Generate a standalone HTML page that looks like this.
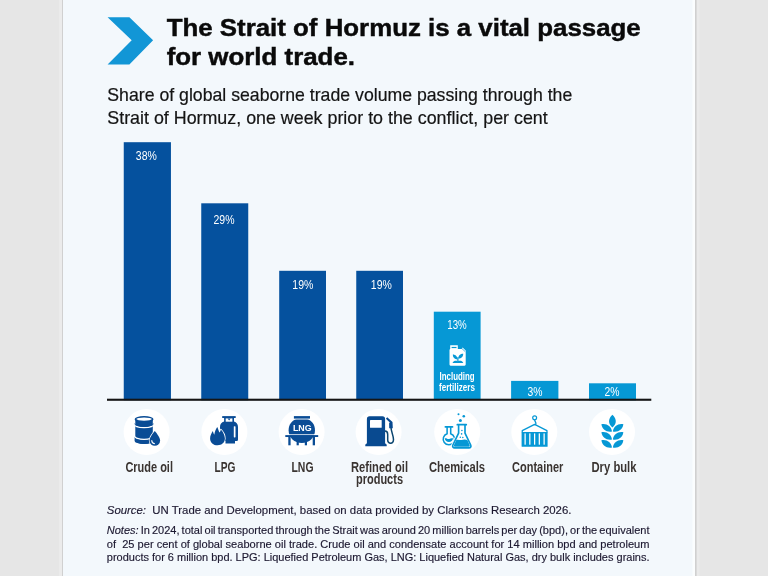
<!DOCTYPE html>
<html lang="en">
<head>
<meta charset="utf-8">
<title>The Strait of Hormuz is a vital passage for world trade.</title>
<style>
html,body{margin:0;padding:0;background:#e6e6e6;}
body{width:768px;height:576px;overflow:hidden;position:relative;font-family:"Liberation Sans",sans-serif;}
svg{position:absolute;left:0;top:0;display:block;}
text{font-family:"Liberation Sans",sans-serif;}
.t{font-weight:bold;font-size:24.8px;fill:#0a0a0a;stroke:#0a0a0a;stroke-width:0.45px;}
.s{font-size:17.8px;fill:#141414;stroke:#141414;stroke-width:0.2px;}
.v{font-size:12.3px;fill:#ffffff;text-anchor:middle;}
.l{font-size:14.5px;font-weight:bold;fill:#3a3431;text-anchor:middle;}
.f{font-size:10px;font-weight:bold;fill:#ffffff;text-anchor:middle;}
.n{font-size:11px;fill:#1c1830;stroke:#1c1830;stroke-width:0.15px;}
.db{fill:#05519e;}
.di{fill:#0a4c95;}
.lb{fill:#0698d5;}
</style>
</head>
<body>
<svg width="768" height="576" viewBox="0 0 768 576">
<!-- page + panel -->
<rect x="0" y="0" width="768" height="576" fill="#e6e6e6"/>
<rect x="59" y="0" width="3" height="576" fill="#ebebeb"/>
<rect x="696" y="0" width="3.5" height="576" fill="#eaeaea"/>
<rect x="62" y="0" width="634.6" height="576" fill="#d0d0d0"/>
<rect x="63" y="0" width="632" height="576" fill="#f3f8fc"/>
<rect x="692.5" y="0" width="2.5" height="576" fill="#fbfdfe"/>

<!-- chevron -->
<polygon fill="#1296d6" points="107.6,17.2 129.4,17.2 153.1,40.2 129.4,64.4 107.6,64.4 131.7,40.2"/>

<!-- title -->
<text class="t" x="166.7" y="35.8" textLength="474" lengthAdjust="spacingAndGlyphs">The Strait of Hormuz is a vital passage</text>
<text class="t" x="166.7" y="65" textLength="188.3" lengthAdjust="spacingAndGlyphs">for world trade.</text>

<!-- subtitle -->
<text class="s" x="107.3" y="100.7" textLength="465" lengthAdjust="spacingAndGlyphs">Share of global seaborne trade volume passing through the</text>
<text class="s" x="107.3" y="123.7" textLength="440.4" lengthAdjust="spacingAndGlyphs">Strait of Hormuz, one week prior to the conflict, per cent</text>

<!-- bars -->
<rect class="db" x="123.75" y="142.2" width="47.2" height="258"/>
<rect class="db" x="201.25" y="203.3" width="47" height="197"/>
<rect class="db" x="279.2" y="270.8" width="46.8" height="129"/>
<rect class="db" x="356.25" y="270.8" width="46.75" height="129"/>
<rect class="lb" x="433.8" y="311.7" width="46.8" height="88"/>
<rect class="lb" x="511.1" y="380.9" width="47.3" height="19"/>
<rect class="lb" x="589" y="383.3" width="47" height="17"/>
<!-- axis -->
<rect x="107" y="398.7" width="544.3" height="2.1" fill="#151515"/>

<!-- values -->
<text class="v" x="146.3" y="160" textLength="21" lengthAdjust="spacingAndGlyphs">38%</text>
<text class="v" x="224" y="224" textLength="21" lengthAdjust="spacingAndGlyphs">29%</text>
<text class="v" x="302.8" y="289.4" textLength="21" lengthAdjust="spacingAndGlyphs">19%</text>
<text class="v" x="381.3" y="289.4" textLength="21" lengthAdjust="spacingAndGlyphs">19%</text>
<text class="v" x="457" y="329.4" textLength="19.5" lengthAdjust="spacingAndGlyphs">13%</text>
<text class="v" x="535" y="395.7" textLength="15" lengthAdjust="spacingAndGlyphs">3%</text>
<text class="v" x="612" y="395.7" textLength="15" lengthAdjust="spacingAndGlyphs">2%</text>

<!-- fertilizers -->
<text class="f" x="457.1" y="379.6" textLength="35" lengthAdjust="spacingAndGlyphs">Including</text>
<text class="f" x="457" y="390.5" textLength="36" lengthAdjust="spacingAndGlyphs">fertilizers</text>

<!-- icon circles -->
<g fill="#ffffff">
<circle cx="146.6" cy="432" r="23"/>
<circle cx="224.4" cy="432" r="23"/>
<circle cx="301.6" cy="432" r="23"/>
<circle cx="378.6" cy="432" r="23"/>
<circle cx="457.2" cy="432" r="23"/>
<circle cx="534.3" cy="432" r="23"/>
<circle cx="612" cy="432" r="23"/>
</g>


<!-- ICON: crude oil -->
<g id="ic-oil">
<path class="di" d="M135.3,419.2 L135.3,441 A8.75,2.9 0 0 0 152.8,441 L152.8,419.2 Z"/>
<ellipse class="di" cx="144.05" cy="419.2" rx="9.45" ry="3.1"/>
<ellipse fill="#ffffff" cx="144.1" cy="419.1" rx="7.7" ry="1.55"/>
<path d="M134.6,424.6 A9.45,3 0 0 0 153.5,424.6" fill="none" stroke="#ffffff" stroke-width="1.3"/>
<path d="M134.6,436.3 A9.45,3 0 0 0 153.5,436.3" fill="none" stroke="#ffffff" stroke-width="1.3"/>
<path d="M134.6,422.9 A9.45,3 0 0 0 153.5,422.9 L153.5,424 A9.45,3 0 0 1 134.6,424 Z" class="di"/>
<path d="M134.6,437.1 A9.45,3 0 0 0 153.5,437.1 L153.5,441 A9.45,3 0 0 1 134.6,441 Z" class="di"/>
<path d="M154.8,430.9 C154.8,430.9 149.5,436.8 149.5,440.4 A5.3,5.3 0 0 0 160.1,440.4 C160.1,436.8 154.8,430.9 154.8,430.9 Z" class="di" stroke="#ffffff" stroke-width="1.3" paint-order="stroke"/>
<path d="M151.8,440.5 A3.1,3.1 0 0 0 154.4,443.6" fill="none" stroke="#ffffff" stroke-width="1.1" stroke-linecap="round"/>
</g>

<!-- ICON: LPG -->
<g id="ic-lpg">
<rect class="di" x="222.2" y="416.1" width="13.5" height="1.9"/>
<rect class="di" x="224.1" y="417.5" width="9.9" height="5"/>
<path class="di" d="M224.1,421.5 C221.5,422.2 220,424.3 220,427 V439.6 C220,440.6 220.6,441.1 221.6,441.1 H225.5 V443.4 H235 V441.1 H236.4 C237.4,441.1 238,440.6 238,439.6 V427 C238,424.3 236.5,422.2 234,421.5 Z"/>
<path fill="#ffffff" d="M225.7,418.4 H232.4 V421.7 H225.7 Z"/>
<path class="di" d="M227.6,418.4 H230.6 L229.1,420.6 Z"/>
<rect fill="#ffffff" x="233.8" y="426.2" width="1.7" height="11.2" rx="0.6"/>
<path class="di" stroke="#ffffff" stroke-width="1.5" paint-order="stroke" stroke-linejoin="round" d="M217.2,427.1 C217.9,428.3 218.6,430.5 219.4,432.6 C220.2,431.9 220.6,430.8 220.8,429.6 C222.4,431.2 224.9,435 224.9,438.6 C224.9,442.6 221.8,445.3 217.6,445.3 C213.4,445.3 210.1,442.6 210.1,438.4 C210.1,435.6 211.6,433 212.9,431 C213.1,432.4 213.6,433.8 214.3,434.8 C214.8,431.8 215.8,429.2 217.2,427.1 Z"/>
</g>

<!-- ICON: LNG -->
<g id="ic-lng">
<rect class="di" x="293.9" y="416.1" width="16.1" height="2.5"/>
<path class="di" d="M296.5,419.4 H307.1 C311.6,419.9 315,424.5 315,430.2 C315,437.5 309.2,443 301.8,443 C294.4,443 288.6,437.5 288.6,430.2 C288.6,424.5 292,419.9 296.5,419.4 Z"/>
<rect fill="#ffffff" x="285.3" y="434.3" width="32.9" height="1"/>
<rect fill="#f3f8fc" x="285.3" y="436.9" width="3.2" height="0.6"/>
<rect class="di" x="285.3" y="435.1" width="32.9" height="1.9"/>
<rect class="di" x="288.3" y="436.9" width="2.3" height="8.4"/>
<rect class="di" x="312.7" y="436.9" width="2.3" height="8.4"/>
<rect class="di" x="296.6" y="441" width="2.2" height="4.3"/>
<rect class="di" x="304.8" y="441" width="2.2" height="4.3"/>
<text x="302.3" y="430.9" font-size="9.4" font-weight="bold" fill="#ffffff" text-anchor="middle" textLength="18.8" lengthAdjust="spacingAndGlyphs">LNG</text>
</g>

<!-- ICON: pump -->
<g id="ic-pump">
<path fill="#094a90" d="M366.9,443 V419 A2.7,2.7 0 0 1 369.6,416.3 H382.4 A2.7,2.7 0 0 1 385.1,419 V443 C385.1,443.9 386.7,443.9 386.7,444.9 V446.2 H365.3 V444.9 C365.3,443.9 366.9,443.9 366.9,443 Z"/>
<rect fill="#ffffff" x="370" y="419.9" width="11.7" height="7.8" rx="0.5"/>
<path fill="none" stroke="#0b456f" stroke-width="1.5" d="M385,431.1 C387.7,431.1 387.7,432.8 387.7,434.4 L387.7,440 C387.7,444.2 393.4,444.4 393.5,439.4 C393.5,436 391.3,432 391,427.6"/>
<path fill="#094a90" d="M385.9,418.8 L387.2,417.2 L392.5,422 L392.8,428.3 L389.2,428.3 L389.1,423.3 L389.8,422.4 Z"/>
</g>

<!-- ICON: chemicals -->
<g id="ic-chem">
<circle class="lb" cx="458.5" cy="414.3" r="1"/>
<circle class="lb" cx="463.8" cy="416.3" r="1.3"/>
<circle class="lb" cx="460.4" cy="420.4" r="1.5"/>
<!-- round flask -->
<path fill="#ffffff" stroke="#0698d5" stroke-width="1.55" d="M447.1,426.9 V433.7 A5.7,5.7 0 1 0 450.7,433.7 V426.9"/>
<path d="M445.3,426.9 H452.6" stroke="#0698d5" stroke-width="1.6" fill="none" stroke-linecap="round"/>
<path class="lb" d="M444.7,438.5 C446.2,437.5 447.6,439.5 449.2,438.9 C450.6,438.4 452,437.7 453.1,438.5 A4.3,4.3 0 0 1 444.7,438.5 Z"/>
<!-- erlenmeyer -->
<g transform="translate(0,0.6)">
<path fill="#ffffff" stroke="#ffffff" stroke-width="3.4" stroke-linejoin="round" d="M458.6,424.2 V432.6 L452.9,444.4 C452.2,446 453,447.2 454.6,447.2 H469 C470.6,447.2 471.4,446 470.7,444.4 L465,432.6 V424.2 Z"/>
<path fill="#ffffff" stroke="#0698d5" stroke-width="1.65" stroke-linejoin="round" d="M458.6,424.2 V432.6 L452.9,444.4 C452.2,446 453,447.2 454.6,447.2 H469 C470.6,447.2 471.4,446 470.7,444.4 L465,432.6 V424.2"/>
<path d="M457.3,424.1 H466.3" stroke="#0698d5" stroke-width="1.7" fill="none" stroke-linecap="round"/>
<path class="lb" d="M456.3,439.4 C458,438.5 459.7,439.9 461.6,439.3 C463.5,438.7 465.7,438.6 467.3,439.4 L469.6,444.5 C470,445.5 469.6,446.1 468.7,446.1 H454.9 C454,446.1 453.6,445.5 454,444.5 Z"/>
<circle class="lb" cx="461.9" cy="429.9" r="0.8"/>
<circle class="lb" cx="461.6" cy="433.3" r="0.8"/>
<circle class="lb" cx="460.3" cy="436.7" r="0.75"/>
<circle class="lb" cx="462.8" cy="436.8" r="0.75"/>
</g>
</g>

<!-- ICON: container -->
<g id="ic-cont">
<circle cx="534.65" cy="417.8" r="1.95" fill="none" stroke="#0698d5" stroke-width="1.2"/>
<path d="M534.65,419.8 C534.8,421.6 535.9,422.2 535.9,423.4 C535.9,424.3 535.3,424.7 534.6,424.7" fill="none" stroke="#0698d5" stroke-width="1.3" stroke-linecap="round"/>
<path d="M522.25,432.4 V430.7 L534.65,424.4 L546.95,430.7 V432.4" fill="none" stroke="#0698d5" stroke-width="1.3" stroke-linejoin="round"/>
<rect class="lb" x="521.6" y="431.9" width="26" height="14.9" rx="0.5"/>
<g fill="#ffffff">
<rect x="524.5" y="433.4" width="1.25" height="11.3"/>
<rect x="529.2" y="433.4" width="1.25" height="11.3"/>
<rect x="534" y="433.4" width="1.25" height="11.3"/>
<rect x="538.7" y="433.4" width="1.25" height="11.3"/>
<rect x="543.5" y="433.4" width="1.25" height="11.3"/>
</g>
</g>

<!-- ICON: grain -->
<g id="ic-grain" class="lb">
<path d="M612.4,414.7 C616.9,419 616.9,423.5 612.4,427.6 C607.9,423.5 607.9,419 612.4,414.7 Z"/>
<path d="M601.40,424.20 C606.79,423.18 611.03,426.10 612.00,431.50 C606.61,432.52 602.37,429.60 601.40,424.20 Z"/>
<path d="M601.40,432.20 C606.79,431.18 611.03,434.10 612.00,439.50 C606.61,440.52 602.37,437.60 601.40,432.20 Z"/>
<path d="M601.40,440.20 C606.79,439.18 611.03,442.10 612.00,447.50 C606.61,448.52 602.37,445.60 601.40,440.20 Z"/>
<path d="M623.40,424.20 C618.01,423.18 613.77,426.10 612.80,431.50 C618.19,432.52 622.43,429.60 623.40,424.20 Z"/>
<path d="M623.40,432.20 C618.01,431.18 613.77,434.10 612.80,439.50 C618.19,440.52 622.43,437.60 623.40,432.20 Z"/>
<path d="M623.40,440.20 C618.01,439.18 613.77,442.10 612.80,447.50 C618.19,448.52 622.43,445.60 623.40,440.20 Z"/>
</g>

<!-- ICON: fertilizer can -->
<g id="ic-fert">
<path fill="#ffffff" d="M450.2,345.3 H457.8 V348.9 H461.6 L462.6,347.6 L465.7,350.6 V364.6 A1.1,1.1 0 0 1 464.6,365.7 H450.6 A1.1,1.1 0 0 1 449.5,364.6 V350 C449.5,349.3 450.2,348.9 450.2,348.9 Z"/>
<rect class="lb" x="451.6" y="346.9" width="4.9" height="1.2"/>
<path d="M461.3,348 L465.2,351.6" stroke="#0698d5" stroke-width="0.7" fill="none"/>
<path class="lb" d="M457.5,359.4 C457.6,356.6 455.6,354.6 452.8,354.5 C452.7,357.6 454.7,359.5 457.5,359.4 Z"/>
<path class="lb" d="M458.3,358.6 C458.2,355.6 460.3,353.9 463.2,353.8 C463.3,356.9 461.2,358.7 458.3,358.6 Z"/>
<rect class="lb" x="457.3" y="357.2" width="1.2" height="4"/>
<path class="lb" d="M452.5,362.9 C453.3,360.8 456,360.4 457.9,361.2 C459.8,360.4 462.5,360.8 463.3,362.9 Z"/>
</g>

<!-- labels -->
<text class="l" x="149.2" y="472" textLength="47.5" lengthAdjust="spacingAndGlyphs">Crude oil</text>
<text class="l" x="225" y="472" textLength="21" lengthAdjust="spacingAndGlyphs">LPG</text>
<text class="l" x="302.5" y="472" textLength="22" lengthAdjust="spacingAndGlyphs">LNG</text>
<text class="l" x="379.5" y="472" textLength="57" lengthAdjust="spacingAndGlyphs">Refined oil</text>
<text class="l" x="379.5" y="483.8" textLength="47" lengthAdjust="spacingAndGlyphs">products</text>
<text class="l" x="457" y="472" textLength="56" lengthAdjust="spacingAndGlyphs">Chemicals</text>
<text class="l" x="537.7" y="472" textLength="51.2" lengthAdjust="spacingAndGlyphs">Container</text>
<text class="l" x="614" y="472" textLength="45" lengthAdjust="spacingAndGlyphs">Dry bulk</text>

<!-- footer -->
<text class="n" x="106.8" y="513.8" style="font-size:11.4px" textLength="464.6" lengthAdjust="spacingAndGlyphs" xml:space="preserve"><tspan font-style="italic">Source:</tspan>  UN Trade and Development, based on data provided by Clarksons Research 2026.</text>
<text class="n" x="106.8" y="534" style="word-spacing:-0.95px" textLength="542.7" lengthAdjust="spacingAndGlyphs"><tspan font-style="italic">Notes:</tspan> In 2024, total oil transported through the Strait was around 20 million barrels per day (bpd), or the equivalent</text>
<text class="n" x="106.8" y="547.5" textLength="542.7" lengthAdjust="spacingAndGlyphs" xml:space="preserve">of  25 per cent of global seaborne oil trade. Crude oil and condensate account for 14 million bpd and petroleum</text>
<text class="n" x="106.8" y="560.8" textLength="542.7" lengthAdjust="spacingAndGlyphs">products for 6 million bpd. LPG: Liquefied Petroleum Gas, LNG: Liquefied Natural Gas, dry bulk includes grains.</text>
</svg>
</body>
</html>
